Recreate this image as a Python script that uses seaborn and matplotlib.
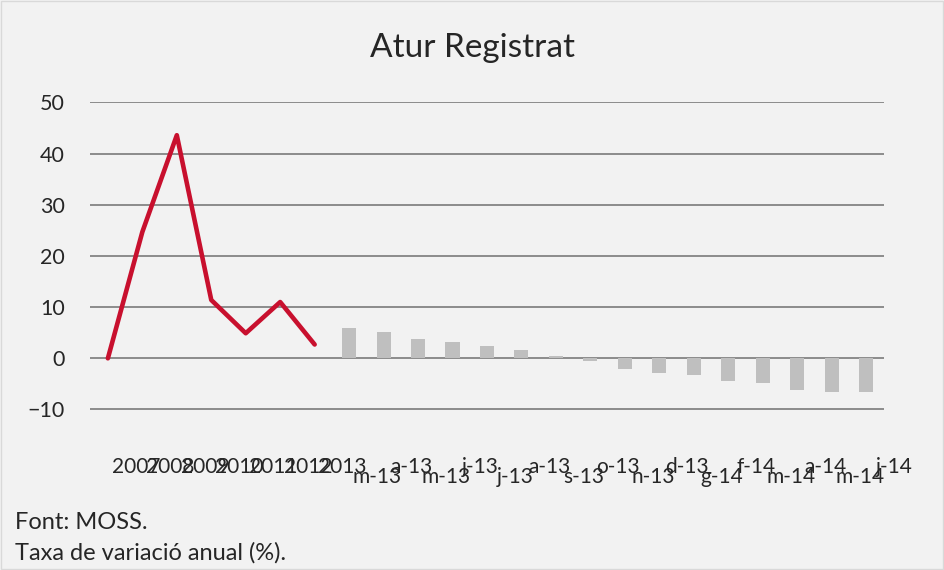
import numpy as np
import pandas as pd
import matplotlib
matplotlib.use("Agg")
import matplotlib.pyplot as plt
import matplotlib.transforms as mtransforms
import seaborn as sns

# annual series (line) and monthly series (bars)
years = ["2007", "2008", "2009", "2010", "2011", "2012", "2013"]
year_vals = [0.0, 24.7, 43.6, 11.4, 4.9, 11.0, 2.7]
months = ["m-13", "a-13", "m-13", "j-13", "j-13", "a-13", "s-13", "o-13",
          "n-13", "d-13", "g-14", "f-14", "m-14", "a-14", "m-14", "j-14"]
month_vals = [5.9, 5.2, 3.8, 3.2, 2.45, 1.6, 0.45, -0.5,
              -2.0, -2.9, -3.3, -4.5, -4.8, -6.1, -6.5, -6.6]

labels = years + months
df = pd.DataFrame({
    "pos": np.arange(len(labels)),
    "label": labels,
    "line": year_vals + [np.nan] * len(months),
    "bar": [np.nan] * len(years) + month_vals,
})

sns.set_style("white")
plt.rcParams["font.family"] = ["Lato", "DejaVu Sans"]

bg = "#f2f2f2"
fig = plt.figure(figsize=(9.44, 5.70), dpi=100, facecolor=bg)
ax = fig.add_axes([0.0953, 0.2807, 0.8411, 0.5404])
ax.set_facecolor(bg)

sns.barplot(data=df, x="pos", y="bar", native_scale=True, color="#bfbfbf",
            saturation=1, width=0.41, ax=ax, zorder=3, linewidth=0, edgecolor="none")
sns.lineplot(data=df.dropna(subset=["line"]), x="pos", y="line", color="#c8102e",
             linewidth=3.3, ax=ax, zorder=4, solid_capstyle="round")

ax.set_ylim(-10.1, 50.1)
ax.set_xlim(-0.52, len(labels) - 1 + 0.52)
ax.set_yticks(np.arange(-10, 51, 10))
ax.yaxis.grid(True, color="#8c8c8c", linewidth=1.4)
ax.set_axisbelow(True)
for s in ax.spines.values():
    s.set_visible(False)
ax.set_xlabel("")
ax.set_ylabel("")
ax.tick_params(axis="y", length=0, pad=18, labelsize=15.5)
ax.tick_params(axis="x", length=0, pad=34, labelsize=15)

ax.set_xticks(df["pos"])
ax.set_xticklabels(labels)
for i, t in enumerate(ax.get_xticklabels()):
    dy = 0
    if i >= len(years) and (i - len(years)) % 2 == 0:
        dy = -10
    t.set_transform(t.get_transform() + mtransforms.ScaledTranslation(28 / 100, dy / 100, fig.dpi_scale_trans))

fig.text(0.5, 0.915, "Atur Registrat", ha="center", va="center", fontsize=24)
fig.text(0.016, 0.083, "Font: MOSS.", ha="left", va="center", fontsize=17)
fig.text(0.016, 0.031, "Taxa de variació anual (%).", ha="left", va="center", fontsize=17)

fig.patches.append(plt.Rectangle((0.001, 0.001), 0.998, 0.998, transform=fig.transFigure,
                                 fill=False, edgecolor="#d9d9d9", linewidth=1))

fig.savefig("out.png", dpi=100, facecolor=bg)
